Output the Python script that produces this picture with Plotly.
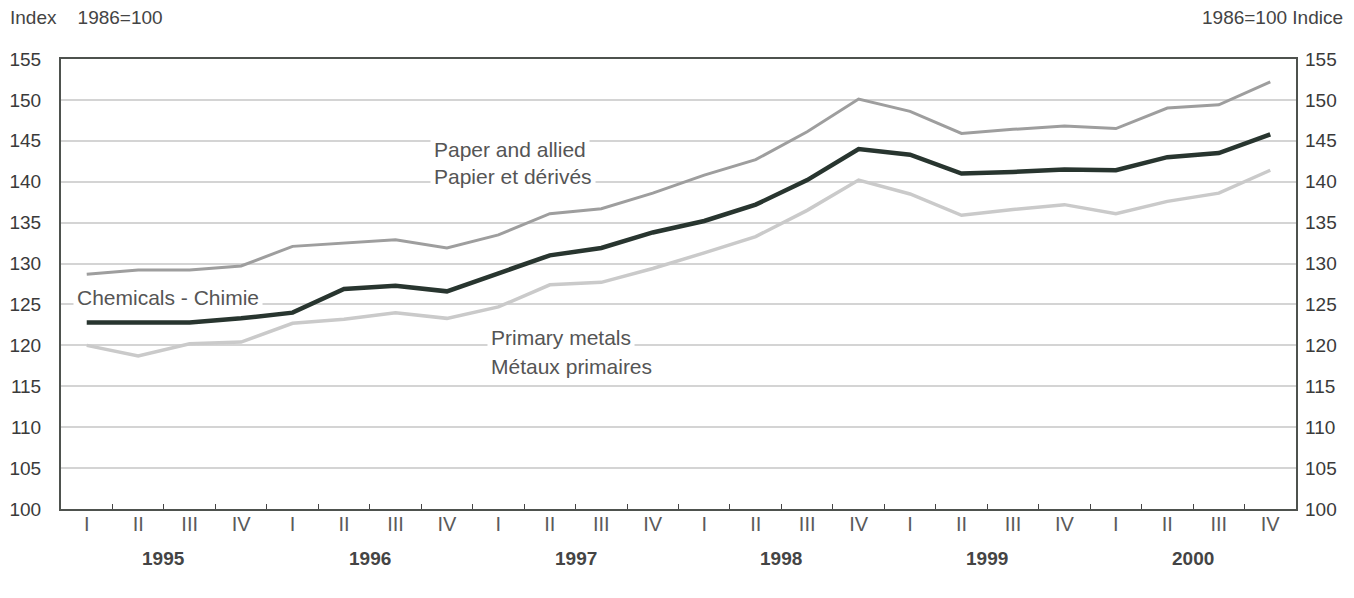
import plotly.graph_objects as go

quarters = ["I", "II", "III", "IV"] * 6
years = ["1995", "1996", "1997", "1998", "1999", "2000"]

chemicals = [122.8, 122.8, 122.8, 123.3, 124.0, 126.9, 127.3, 126.6, 128.8, 131.0, 131.9, 133.8,
             135.2, 137.2, 140.2, 144.0, 143.3, 141.0, 141.2, 141.5, 141.4, 143.0, 143.5, 145.8]
paper = [128.7, 129.2, 129.2, 129.7, 132.1, 132.5, 132.9, 131.9, 133.5, 136.1, 136.7, 138.6,
         140.8, 142.7, 146.1, 150.1, 148.6, 145.9, 146.4, 146.8, 146.5, 149.0, 149.4, 152.2]
metals = [120.0, 118.7, 120.2, 120.4, 122.7, 123.2, 124.0, 123.3, 124.7, 127.4, 127.7, 129.4,
          131.3, 133.3, 136.5, 140.2, 138.5, 135.9, 136.6, 137.2, 136.1, 137.6, 138.6, 141.4]

x = list(range(len(quarters)))
FONT = "Liberation Sans, Arial, sans-serif"
TXT = "#3a3a3a"

fig = go.Figure()
fig.add_trace(go.Scatter(x=x, y=metals, mode="lines", line=dict(color="#cacaca", width=3.5),
                         hoverinfo="skip", showlegend=False))
fig.add_trace(go.Scatter(x=x, y=paper, mode="lines", line=dict(color="#9e9e9e", width=3),
                         hoverinfo="skip", showlegend=False))
fig.add_trace(go.Scatter(x=x, y=chemicals, mode="lines", line=dict(color="#28352f", width=4.5),
                         hoverinfo="skip", showlegend=False))
# invisible trace carrying the right-hand axis and the quarter labels
fig.add_trace(go.Scatter(x=x, y=chemicals, xaxis="x2", yaxis="y2", mode="lines",
                         line=dict(width=0), opacity=0, hoverinfo="skip", showlegend=False))

# page body has an 8px margin: figure is 1346x590 placed at (8,8)
fig.update_layout(
    width=1346, height=590,
    margin=dict(l=53, r=58, t=51, b=89, autoexpand=False),
    paper_bgcolor="white", plot_bgcolor="white",
    font=dict(family=FONT, color=TXT, size=19),
    xaxis=dict(range=[-0.5, 23.5], tickvals=[i + 0.5 for i in range(23)], ticktext=[""] * 23,
               ticks="inside", ticklen=5, tickwidth=1.2, tickcolor="#444",
               showgrid=False, zeroline=False, showline=True, linecolor="#4e524e", linewidth=2,
               mirror=True),
    xaxis2=dict(range=[-0.5, 23.5], overlaying="x", side="bottom", tickvals=x, ticktext=quarters,
                ticks="", showgrid=False, zeroline=False, showline=False,
                tickfont=dict(size=20, color="#5a5a5a"), ticklabelstandoff=1),
    yaxis=dict(range=[100, 155], dtick=5, tick0=100, showgrid=True, gridcolor="#d4d4d4", gridwidth=2,
               zeroline=False, showline=True, linecolor="#4e524e", linewidth=2, mirror=True,
               ticks="", ticklabelstandoff=14, tickfont=dict(size=19)),
    yaxis2=dict(range=[100, 155], dtick=5, tick0=100, overlaying="y", side="right", matches="y",
                showgrid=False, zeroline=False, showline=False, ticks="", ticklabelstandoff=8,
                tickfont=dict(size=19)),
)

for k, yr in enumerate(years):
    fig.add_annotation(x=4 * k + 1.5, y=-0.109, xref="x", yref="paper", text="<b>" + yr + "</b>",
                       showarrow=False, yanchor="middle", font=dict(size=19, color="#444"))


def lab(text, xp, yp):
    fig.add_annotation(x=xp, y=yp, xref="paper", yref="paper", text=text, showarrow=False,
                       xanchor="left", yanchor="middle", bgcolor="white", borderpad=3,
                       font=dict(size=21, color="#555"))


lab("Paper and allied", 0.299, 0.800)
lab("Papier et dérivés", 0.299, 0.738)
lab("Chemicals - Chimie", 0.010, 0.471)
lab("Primary metals", 0.345, 0.382)
lab("Métaux primaires", 0.345, 0.316)

fig.add_annotation(x=-0.043, y=1.092, xref="paper", yref="paper",
                   text="Index\u00a0\u00a0\u00a0\u00a01986=100",
                   showarrow=False, xanchor="left", yanchor="middle", font=dict(size=19, color="#444"))
fig.add_annotation(x=1.040, y=1.092, xref="paper", yref="paper", text="1986=100\u00a0Indice",
                   showarrow=False, xanchor="right", yanchor="middle", font=dict(size=19, color="#444"))

fig.write_html("out.html")
